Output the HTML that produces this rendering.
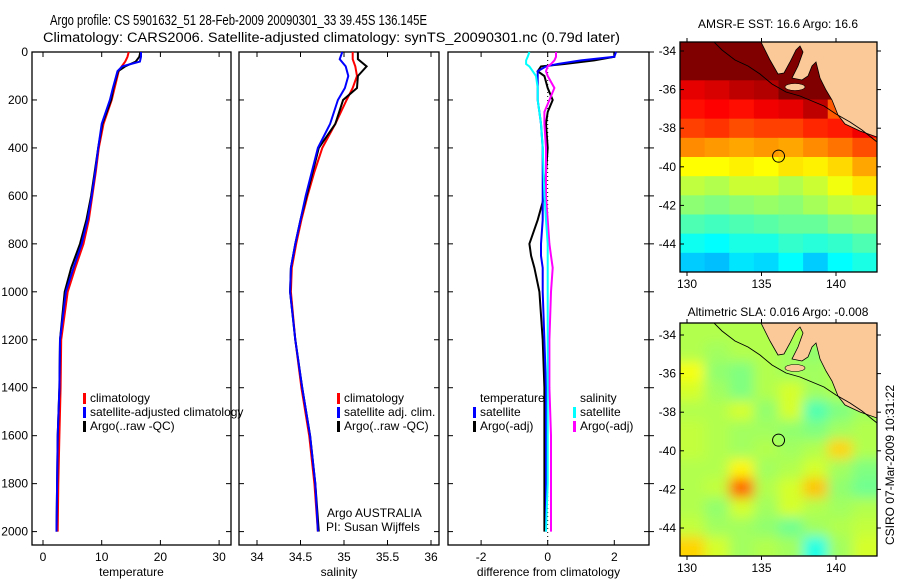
<!DOCTYPE html>
<html><head><meta charset="utf-8"><style>
html,body{margin:0;padding:0;background:#fff}
svg{display:block;font-family:"Liberation Sans",sans-serif}
</style></head><body>
<svg id="fig" width="900" height="580" viewBox="0 0 900 580">
<defs><filter id="smooth" x="-5%" y="-5%" width="110%" height="110%"><feGaussianBlur stdDeviation="6"/></filter></defs>
<rect width="900" height="580" fill="#fff"/>
<text x="50" y="25" font-size="14.5" textLength="377" lengthAdjust="spacingAndGlyphs">Argo profile: CS 5901632_51 28-Feb-2009 20090301_33 39.45S 136.145E</text>
<text x="43" y="42" font-size="13.5" textLength="577" lengthAdjust="spacingAndGlyphs">Climatology: CARS2006. Satellite-adjusted climatology: synTS_20090301.nc (0.79d later)</text>
<g id="layer"></g>
<text x="778" y="28" font-size="12" text-anchor="middle">AMSR-E SST: 16.6 Argo: 16.6</text>
<text x="778" y="316" font-size="12" text-anchor="middle">Altimetric SLA: 0.016 Argo: -0.008</text>
<text transform="translate(894,465) rotate(-90)" font-size="12" text-anchor="middle">CSIRO 07-Mar-2009 10:31:22</text>
</svg>
<script>
// ---------- data ----------
const depthT = [0,20,40,60,80,150,200,300,400,500,600,700,800,900,1000,1200,1400,1600,1800,2000];
const tempClim = [14.6,14.4,14.0,13.4,12.9,12.2,11.7,10.3,9.5,9.0,8.4,7.8,6.9,5.5,4.2,3.1,3.0,2.8,2.6,2.5];
const tempSat  = [16.7,16.7,16.5,13.5,12.7,11.9,11.4,10.0,9.4,8.9,8.3,7.6,6.6,5.2,3.9,2.9,2.8,2.5,2.4,2.3];
const tempArgo = [16.6,16.4,15.8,14.0,12.8,12.0,11.6,10.1,9.4,8.8,8.2,7.4,6.3,4.8,3.7,2.9,2.8,2.5,2.4,2.3];
const depthS = [0,30,60,100,150,200,300,400,500,600,700,800,900,1000,1200,1400,1600,1800,2000];
const salClim = [35.10,35.10,35.13,35.15,35.10,35.03,34.90,34.75,34.66,34.58,34.51,34.45,34.40,34.39,34.44,34.51,34.60,34.66,34.70];
const salSat  = [34.98,34.95,35.02,35.05,35.01,34.93,34.84,34.70,34.63,34.56,34.50,34.44,34.39,34.38,34.44,34.52,34.61,34.67,34.70];
const salArgo = [35.16,35.16,35.26,35.16,35.15,34.99,34.90,34.71,34.64,34.57,34.50,34.44,34.39,34.38,34.44,34.52,34.61,34.67,34.71];
const depthD = [0,20,35,50,60,80,100,150,200,250,300,400,600,700,800,850,900,1000,1200,1400,1600,1800,2000];
const dTempSat  = [2.05,2.0,1.0,0.3,-0.05,-0.3,-0.3,-0.3,-0.3,-0.25,-0.2,-0.15,-0.15,-0.15,-0.2,-0.2,-0.15,-0.15,-0.1,-0.05,-0.05,-0.05,-0.05];
const dTempArgo = [2.0,2.0,1.4,0.5,-0.2,-0.3,-0.1,0.0,0.15,0.0,-0.05,0.0,-0.1,-0.3,-0.55,-0.5,-0.4,-0.25,-0.15,-0.1,-0.1,-0.1,-0.1];
const dSalSat   = [-0.55,-0.6,-0.65,-0.65,-0.55,-0.45,-0.35,-0.3,-0.3,-0.25,-0.2,-0.15,-0.1,-0.05,0.0,0.0,0.0,0.0,0.0,0.0,0.0,0.0,-0.05];
const dSalArgo  = [0.25,0.25,0.2,0.1,0.0,-0.05,0.0,0.2,0.05,-0.1,-0.1,-0.05,-0.05,0.0,0.05,0.1,0.15,0.1,0.05,0.05,0.1,0.1,0.1];
const depthTicks = [0,200,400,600,800,1000,1200,1400,1600,1800,2000];
const tempTicks = [0,10,20,30];
const salTicks = [34,34.5,35,35.5,36];
const salTickLabels = ["34","34.5","35","35.5","36"];
const diffTicks = [-2,0,2];
const latTicks = [-34,-36,-38,-40,-42,-44];
const lonTicks = [130,135,140];
const sstGrid = [
 [20,20,20,20,20,20,20,20],
 [20,20,20,20,20,20,20,20],
 [19.2,19.3,19.5,19.6,20,20,20,20],
 [18.9,19.0,18.9,19.1,19.2,19.5,18.3,20],
 [18.5,18.6,18.4,18.5,18.5,18.7,18.8,19.1],
 [17.9,17.8,17.7,17.8,17.7,17.9,18.1,18.4],
 [17.0,17.0,17.1,17.0,17.2,17.1,17.3,17.7],
 [16.5,16.4,16.6,16.6,16.4,16.6,16.9,17.2],
 [16.1,16.0,16.1,16.2,16.1,16.3,16.5,16.6],
 [15.6,15.5,15.6,15.7,15.8,15.8,16.0,16.1],
 [15.1,15.0,15.2,15.2,15.4,15.3,15.4,15.6],
 [14.6,14.5,14.8,14.7,15.0,14.6,15.0,15.2]];
const slaGrid = [
 [0.03,0.03,0.03,0.03,0.03,0.03,0.03,0.03],
 [0.03,0.02,0.03,0.03,0.02,0.01,0.03,0.03],
 [0.07,0.01,0.00,0.03,0.02,0.02,0.03,0.03],
 [0.05,0.02,0.00,0.03,0.05,0.02,0.03,0.03],
 [0.03,0.03,0.05,0.01,0.05,-0.03,0.00,0.02],
 [0.04,0.03,0.02,0.02,0.01,0.00,0.02,0.03],
 [0.04,0.03,0.02,0.03,0.02,0.03,0.10,0.03],
 [0.03,0.03,0.08,0.02,0.03,0.05,0.02,0.00],
 [0.03,0.04,0.17,0.03,0.05,0.11,0.01,-0.01],
 [0.03,0.01,0.05,0.02,0.05,0.03,0.02,0.03],
 [0.04,0.02,0.02,0.01,-0.01,0.02,0.03,0.04],
 [0.10,0.05,0.02,0.03,0.02,-0.06,0.02,0.05]];
const argoLon = 136.145, argoLat = -39.45;

// ---------- helpers ----------
const NS='http://www.w3.org/2000/svg';
const layer=document.getElementById('layer');
function mk(tag,attrs,parent){const e=document.createElementNS(NS,tag);for(const k in attrs)e.setAttribute(k,attrs[k]);(parent||layer).appendChild(e);return e;}
const yDepth=d=>52+d*0.2398;
const xTemp=t=>43+t*5.87;
const xSal=s=>257+(s-34)*87;
const xDiff=v=>547.7+v*33.3;

function panelFrame(x0,x1,name,xt,xl,xf,label,rightLabels){
  const r=mk('rect',{x:x0,y:52,width:x1-x0,height:493,fill:'none',stroke:'#000','stroke-width':1.3});
  
  depthTicks.forEach(d=>{const y=yDepth(d);
    mk('line',{x1:x0,y1:y,x2:x0+5,y2:y,stroke:'#000'});
    mk('line',{x1:x1,y1:y,x2:x1-5,y2:y,stroke:'#000'});
    if(rightLabels){mk('line',{x1:x1,y1:y,x2:x1+5,y2:y,stroke:'#000'});}
    if(x0<40){const t=mk('text',{x:x0-4,y:y+4,'font-size':12,'text-anchor':'end'});t.textContent=d;
      }
  });
  xt.forEach((v,i)=>{const x=xf(v);
    mk('line',{x1:x,y1:52,x2:x,y2:57,stroke:'#000'});mk('line',{x1:x,y1:545,x2:x,y2:540,stroke:'#000'});
    const t=mk('text',{x:x,y:561,'font-size':12,'text-anchor':'middle'});t.textContent=xl[i];
    });
  const lt=mk('text',{x:(x0+x1)/2,y:576,'font-size':12,'text-anchor':'middle'});lt.textContent=label;
  
}
function line(depths,vals,xf,color,name,w){
  const d=depths.map((z,i)=>(i?'L':'M')+xf(vals[i]).toFixed(1)+','+yDepth(z).toFixed(1)).join('');
  const p=mk('path',{d:d,fill:'none',stroke:color,'stroke-width':w||2});
  
}
function legend(x,y,items){
  items.forEach((it,i)=>{
    if(it[0])mk('rect',{x:x,y:y+i*14-9,width:3,height:11,fill:it[0]});
    const t=mk('text',{x:x+7,y:y+i*14,'font-size':12});t.textContent=it[1];
    
  });
}

panelFrame(32,231,'temperature-panel',tempTicks,tempTicks.map(String),xTemp,'temperature',false);
line(depthT,tempClim,xTemp,'#f00','temperature-climatology-line');
line(depthT,tempArgo,xTemp,'#000','temperature-argo-line');
line(depthT,tempSat,xTemp,'#00f','temperature-satellite-line');
legend(83,402,[['#f00','climatology'],['#00f','satellite-adjusted climatology'],['#000','Argo(..raw -QC)']]);
panelFrame(239,439,'salinity-panel',salTicks,salTickLabels,xSal,'salinity',false);
line(depthS,salClim,xSal,'#f00','salinity-climatology-line');
line(depthS,salArgo,xSal,'#000','salinity-argo-line');
line(depthS,salSat,xSal,'#00f','salinity-satellite-line');
legend(337,402,[['#f00','climatology'],['#00f','satellite adj. clim.'],['#000','Argo(..raw -QC)']]);
let t1=mk('text',{x:327,y:517,'font-size':12});t1.textContent='Argo AUSTRALIA';

let t2=mk('text',{x:326,y:531,'font-size':12});t2.textContent='PI: Susan Wijffels';

panelFrame(448,649,'difference-panel',diffTicks,diffTicks.map(String),xDiff,'difference from climatology',true);
mk('line',{x1:xDiff(0),y1:52,x2:xDiff(0),y2:545,stroke:'#000','stroke-dasharray':'1,3'});
line(depthD,dTempArgo,xDiff,'#000','diff-temperature-argo-line');
line(depthD,dTempSat,xDiff,'#00f','diff-temperature-satellite-line');
line(depthD,dSalArgo,xDiff,'#f0f','diff-salinity-argo-line');
line(depthD,dSalSat,xDiff,'#0ff','diff-salinity-satellite-line');
legend(473,402,[[null,'temperature'],['#00f','satellite'],['#000','Argo(-adj)']]);
legend(573,402,[[null,'salinity'],['#0ff','satellite'],['#f0f','Argo(-adj)']]);

// ---------- maps ----------
function jet(v){v=Math.max(0,Math.min(1,v));const c=x=>Math.round(255*Math.max(0,Math.min(1,x)));
  return 'rgb('+c(1.5-Math.abs(4*v-3))+','+c(1.5-Math.abs(4*v-2))+','+c(1.5-Math.abs(4*v-1))+')';}
function map(top,bottom,name,grid,vmin,vmax,latRef,smooth){
  const left=680,right=877,lon0=129.53,pxLon=14.9,pxLat=19.3;
  const xLon=l=>left+(l-lon0)*pxLon, yLat=la=>latRef+(-34-la)*pxLat;
  const gid=name+'-clip';
  const cp=mk('clipPath',{id:gid});mk('rect',{x:left,y:top,width:right-left,height:bottom-top},cp);
  const g=mk('g',{'clip-path':'url(#'+gid+')'});
  
  const rows=grid.length,cols=grid[0].length;
  const cw=(right-left)/cols,rh=(bottom-top)/rows;
  const cg=mk('g',smooth?{filter:'url(#smooth)'}:{},g);
  grid.forEach((row,r)=>row.forEach((v,c)=>{
    const ex=smooth?12:0;
    const x=left+c*cw-(c===0?ex:0), y=top+r*rh-(r===0?ex:0);
    const w=cw+0.6+(c===0?ex:0)+(c===cols-1?ex:0), h=rh+0.6+(r===0?ex:0)+(r===rows-1?ex:0);
    const cell=mk('rect',{x:x,y:y,width:w,height:h,fill:jet((v-vmin)/(vmax-vmin))},cg);
    
  }));
  const oy=top-42;
  const land=mk('path',{transform:'translate(0,'+oy+')',fill:'#fbc898',stroke:'#000','stroke-width':0.8,
    d:'M760,40 L770,60 L778,74 L784,73 L790,62 L796,50 L800,46 L803,52 L798,66 L792,78 L802,80 L808,76 L812,66 L816,62 L820,78 L826,90 L832,100 L838,115 L845,124 L860,131 L877,137 L879,137 L879,40 Z'},g);
  
  const isl=mk('ellipse',{cx:795,cy:87+oy,rx:10,ry:3.5,fill:'#fbc898',stroke:'#000','stroke-width':0.6},g);
  
  const shelf=mk('path',{transform:'translate(0,'+oy+')',fill:'none',stroke:'#000','stroke-width':0.9,
    d:'M712,40 L722,50 L735,60 L748,66 L760,74 L772,84 L786,92 L800,96 L812,101 L824,106 L836,114 L850,122 L862,130 L877,142'},g);
  
  const ring=mk('circle',{cx:xLon(argoLon),cy:yLat(argoLat),r:6,fill:'none',stroke:'#000','stroke-width':1});
  
  const fr=mk('rect',{x:left,y:top,width:right-left,height:bottom-top,fill:'none',stroke:'#000','stroke-width':1.3});
  
  latTicks.forEach(la=>{const y=yLat(la);
    mk('line',{x1:left,y1:y,x2:left+4,y2:y,stroke:'#000'});mk('line',{x1:right,y1:y,x2:right+4,y2:y,stroke:'#000'});
    const t=mk('text',{x:left-4,y:y+4,'font-size':12,'text-anchor':'end'});t.textContent=la;
    });
  lonTicks.forEach(lo=>{const x=xLon(lo);
    mk('line',{x1:x,y1:top,x2:x,y2:top-4,stroke:'#000'});mk('line',{x1:x,y1:bottom,x2:x,y2:bottom+4,stroke:'#000'});
    const t=mk('text',{x:x,y:bottom+16,'font-size':12,'text-anchor':'middle'});t.textContent=lo;
    });
}
map(42,272,'sst-map',sstGrid,12,20,51,false);
map(323,556,'sla-map',slaGrid,-0.3,0.3,335,true);
</script>
</body></html>
